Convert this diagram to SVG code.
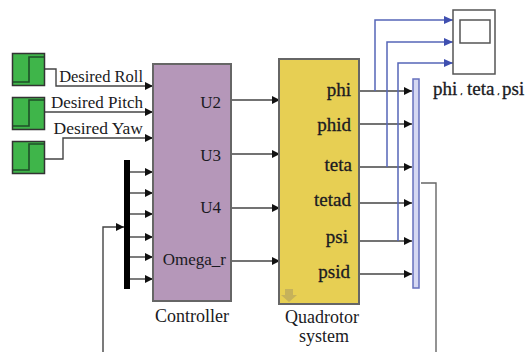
<svg xmlns="http://www.w3.org/2000/svg" width="528" height="352" viewBox="0 0 528 352">
<defs>
<marker id="ak" markerUnits="userSpaceOnUse" markerWidth="9" markerHeight="9" refX="8" refY="4" orient="auto"><path d="M0 0L8 4L0 8Z" fill="#111"/></marker>
<marker id="ab" markerUnits="userSpaceOnUse" markerWidth="10" markerHeight="9" refX="9" refY="4" orient="auto"><path d="M0 0L9 4L0 8Z" fill="#3f4fb0"/></marker>
</defs>
<style>
text{font-family:"Liberation Serif",serif;fill:#1a1a22;font-size:17px}
.e{text-anchor:end}
.m{text-anchor:middle}
.lg{font-size:19px;stroke:#1a1a22;stroke-width:.3px}
.cap{font-size:18px}
.c{fill:none;stroke:#444;stroke-width:1.4;marker-end:url(#ak)}
.p{fill:none;stroke:#666;stroke-width:1.4}
.b{fill:none;stroke:#5565b8;stroke-width:1.5}
.ba{marker-end:url(#ab)}
.st{fill:#3fb54a;stroke:#333;stroke-width:1.5}
.sl{fill:none;stroke:#1f4f28;stroke-width:1.6}
</style>
<g id="connectors">
<path class="c" d="M45 69H56V86H153"/>
<path class="c" d="M45 112H153"/>
<path class="c" d="M45 159H63V138H153"/>
<path class="c" d="M130 172H153"/>
<path class="c" d="M130 193H153"/>
<path class="c" d="M130 214H153"/>
<path class="c" d="M130 237H153"/>
<path class="c" d="M130 257H153"/>
<path class="c" d="M130 279H153"/>
<path class="c" d="M103 352V227H124"/>
<path class="c" d="M231 100H280"/>
<path class="c" d="M231 154H280"/>
<path class="c" d="M231 208H280"/>
<path class="c" d="M231 261H280"/>
<path class="c" d="M360 91H412"/>
<path class="c" d="M360 124H412"/>
<path class="c" d="M360 167H412"/>
<path class="c" d="M360 203H412"/>
<path class="c" d="M360 241H412"/>
<path class="c" d="M360 274H412"/>
<path class="b ba" d="M375 91V20H453"/>
<path class="b ba" d="M387 167V42H453"/>
<path class="b ba" d="M398 241V63H453"/>
<path class="p" d="M421 183H436V352"/>
</g>
<g id="step-roll"><rect class="st" x="12.500" y="53.500" width="32" height="32"/><path class="sl" d="M13 82H29V57H44"/></g>
<g id="step-pitch"><rect class="st" x="12.500" y="97.500" width="32" height="32"/><path class="sl" d="M13 126H29V100H44"/></g>
<g id="step-yaw"><rect class="st" x="12.500" y="141.500" width="32" height="32"/><path class="sl" d="M13 170H29V144H44"/></g>
<g id="labels-desired">
<text class="e" x="143" y="82" style="font-size:16.500px">Desired Roll</text>
<text class="e" x="143" y="108">Desired Pitch</text>
<text class="e" x="143" y="134" style="font-size:17.500px">Desired Yaw</text>
</g>
<g id="mux-in"><rect x="124" y="160" width="6" height="129" fill="#000"/></g>
<g id="controller">
<rect x="153" y="64" width="78" height="237" fill="#b597b9" stroke="#666" stroke-width="2"/>
<text class="e" x="221" y="108">U2</text>
<text class="e" x="221" y="161">U3</text>
<text class="e" x="221" y="213">U4</text>
<text class="e" x="226" y="265">Omega_r</text>
<text class="m cap" x="192" y="322">Controller</text>
</g>
<g id="quadrotor">
<rect x="279" y="59" width="80" height="245" fill="#e7cf53" stroke="#666" stroke-width="2"/>
<path d="M285 289H293V295H297L289 302L281 295H285Z" fill="#c6b25a"/>
<text class="e lg" x="351" y="96">phi</text>
<text class="e lg" x="351" y="131">phid</text>
<text class="e lg" x="352" y="171">teta</text>
<text class="e lg" x="351" y="206">tetad</text>
<text class="e lg" x="348" y="243">psi</text>
<text class="e lg" x="350" y="278">psid</text>
<text class="m cap" x="322" y="323">Quadrotor</text>
<text class="m cap" x="324" y="342">system</text>
</g>
<g id="mux-out"><rect x="413" y="79" width="6" height="209" fill="#d5d8f2" stroke="#6670bd" stroke-width="1.5"/></g>
<g id="scope">
<rect x="453" y="10" width="42" height="64" fill="#fff" stroke="#555" stroke-width="1.5"/>
<rect x="460" y="20" width="30" height="23" fill="#fff" stroke="#555" stroke-width="1.5"/>
<text class="lg" y="95"><tspan x="433">phi</tspan><tspan x="460" font-size="8">،</tspan><tspan x="467">teta</tspan><tspan x="497" font-size="8">،</tspan><tspan x="502">psi</tspan></text>
</g>
</svg>
